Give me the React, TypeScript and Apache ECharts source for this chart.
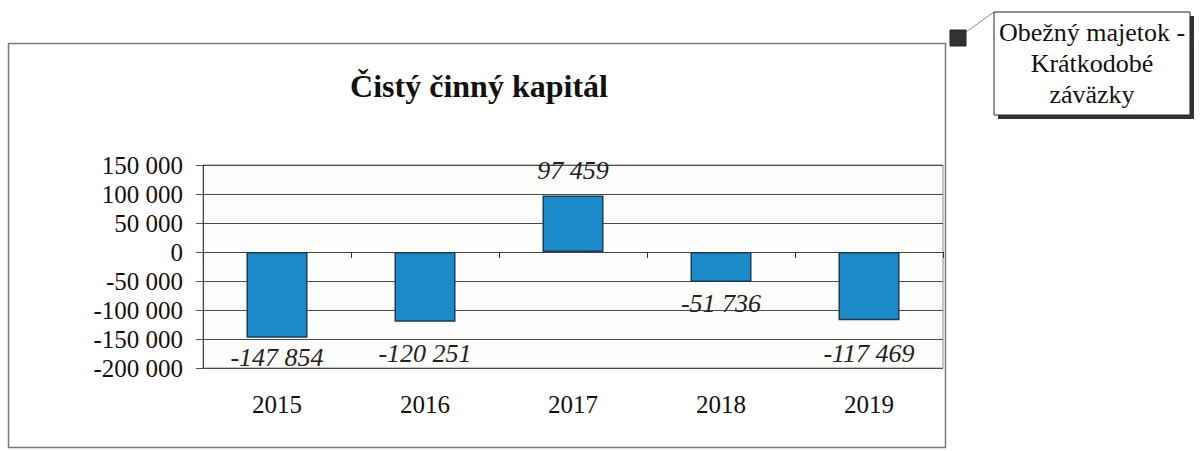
import React, { useEffect, useRef } from "react";
import * as echarts from "echarts";

const categories = ["2015", "2016", "2017", "2018", "2019"];
const values = [-147854, -120251, 97459, -51736, -117469];
const chartTitle = "Čistý činný kapitál";
const legendLines = ["Obežný majetok -", "Krátkodobé", "záväzky"];
const yMin = -200000;
const yMax = 150000;
const yStep = 50000;
// label gap (px) from the bar end, per bar (style only)
const labelGaps = [7, 19, 12, 8, 20];

const SERIF = "Liberation Serif";

function fmt(v: number): string {
  const s = Math.abs(v)
    .toString()
    .replace(/\B(?=(\d{3})+(?!\d))/g, " ");
  return (v < 0 ? "-" : "") + s;
}

export default function App() {
  const ref = useRef<HTMLDivElement>(null);
  useEffect(() => {
    document.body.style.margin = "0";
    if (!ref.current) return;
    const chart = echarts.init(ref.current, undefined, { renderer: "svg" });
    chart.setOption({
      animation: false,
      backgroundColor: "#ffffff",
      textStyle: { fontFamily: SERIF },
      title: {
        text: chartTitle,
        left: 474,
        top: 65,
        textAlign: "center",
        textStyle: {
          fontFamily: SERIF,
          fontWeight: "bold",
          fontSize: 32,
          color: "#111",
        },
      },
      grid: {
        left: 203,
        top: 165,
        width: 740,
        height: 203,
        show: true,
        backgroundColor: "#fdfdfc",
        borderColor: "#8a8a8a",
        borderWidth: 1,
      },
      xAxis: [
        {
          type: "category",
          data: categories,
          axisLine: { onZero: true, lineStyle: { color: "#444", width: 1 } },
          axisTick: {
            show: true,
            inside: false,
            length: 6,
            lineStyle: { color: "#333" },
          },
          axisLabel: { show: false },
          splitLine: { show: false },
        },
        {
          type: "category",
          data: categories,
          position: "bottom",
          axisLine: { show: false, onZero: false },
          axisTick: { show: false },
          axisLabel: {
            show: true,
            margin: 24,
            fontFamily: SERIF,
            fontSize: 25,
            color: "#111",
          },
        },
      ],
      yAxis: {
        type: "value",
        min: yMin,
        max: yMax,
        interval: yStep,
        axisLine: { show: true, lineStyle: { color: "#444" } },
        axisTick: { show: true, length: 7, lineStyle: { color: "#555" } },
        axisLabel: {
          margin: 20,
          fontFamily: SERIF,
          fontSize: 25,
          color: "#111",
          formatter: (v: number) => fmt(v),
        },
        splitLine: { show: true, lineStyle: { color: "#4a4a4a", width: 1 } },
      },
      series: [
        {
          type: "bar",
          xAxisIndex: 0,
          barWidth: 61,
          data: values.map((v, i) => ({
            value: v,
            label: {
              position: v < 0 ? "bottom" : "top",
              distance: labelGaps[i],
            },
          })),
          itemStyle: {
            color: "#1a8ac8",
            borderColor: "#1d3a52",
            borderWidth: 1.5,
          },
          label: {
            show: true,
            fontFamily: SERIF,
            fontStyle: "italic",
            fontSize: 26,
            color: "#222",
            formatter: (p: any) => fmt(p.value),
          },
        },
      ],
      graphic: [
        {
          type: "rect",
          shape: { x: 8.5, y: 43.5, width: 937, height: 404 },
          style: { fill: "none", stroke: "#7a7a7a", lineWidth: 1.5 },
          silent: true,
        },
        {
          type: "line",
          shape: { x1: 966, y1: 32, x2: 994, y2: 12 },
          style: { stroke: "#888", lineWidth: 1 },
        },
        {
          type: "rect",
          shape: { x: 950, y: 30, width: 16, height: 16 },
          style: { fill: "#333", stroke: "#222" },
        },
        {
          type: "rect",
          shape: { x: 998, y: 16, width: 196, height: 103 },
          style: { fill: "#333" },
        },
        {
          type: "rect",
          shape: { x: 994, y: 12, width: 196, height: 103 },
          style: { fill: "#fff", stroke: "#222", lineWidth: 1 },
        },
        ...legendLines.map((t, i) => ({
          type: "text",
          x: 1092,
          y: 32 + i * 31,
          style: {
            text: t,
            fontFamily: SERIF,
            fontSize: 26,
            fill: "#111",
            textAlign: "center",
            textVerticalAlign: "middle",
          },
        })),
      ],
    });
    return () => chart.dispose();
  }, []);
  return <div ref={ref} style={{ width: 1201, height: 451 }} />;
}
